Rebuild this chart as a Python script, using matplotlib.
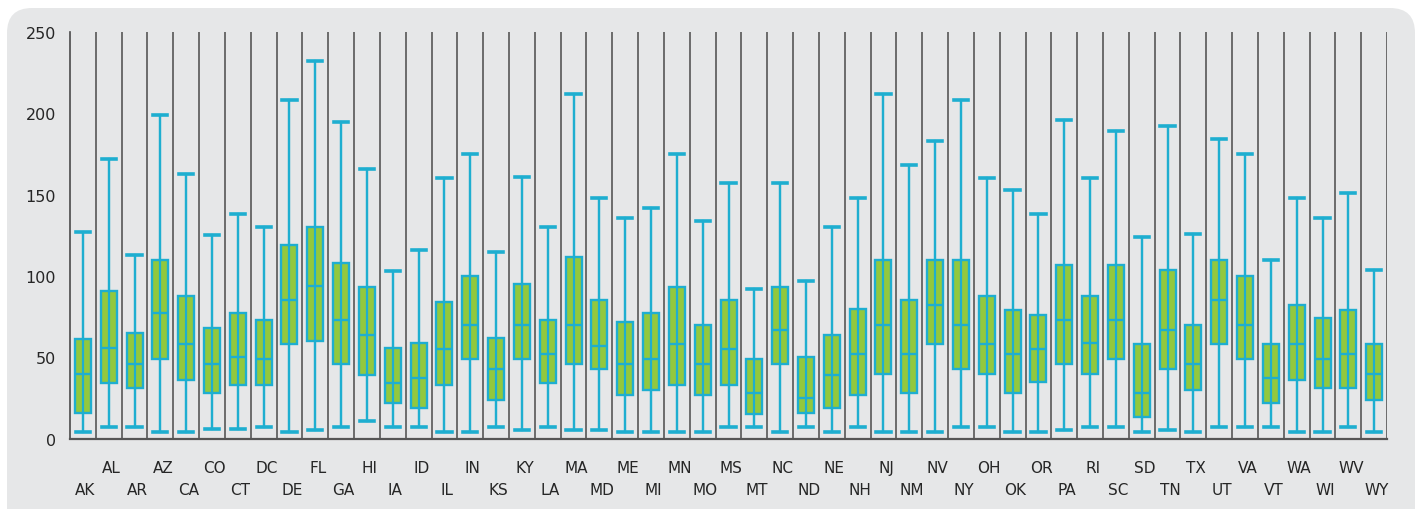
import matplotlib
matplotlib.use("Agg")
import matplotlib.pyplot as plt
from matplotlib.patches import FancyBboxPatch
import matplotlib.transforms as mtransforms

# Data
states = ["AK", "AL", "AR", "AZ", "CA", "CO", "CT", "DC", "DE", "FL", "GA", "HI", "IA",
          "ID", "IL", "IN", "KS", "KY", "LA", "MA", "MD", "ME", "MI", "MN", "MO", "MS",
          "MT", "NC", "ND", "NE", "NH", "NJ", "NM", "NV", "NY", "OH", "OK", "OR", "PA",
          "RI", "SC", "SD", "TN", "TX", "UT", "VA", "VT", "WA", "WI", "WV", "WY"]
whiskerHigh = [127, 172, 113, 199, 163, 125, 138, 130, 208, 232, 195, 166, 103,
               116, 160, 175, 115, 161, 130, 212, 148, 136, 142, 175, 134, 157,
               92, 157, 97, 130, 148, 212, 168, 183, 208, 160, 153, 138, 196,
               160, 189, 124, 192, 126, 184, 175, 110, 148, 136, 151, 104]
boxHigh = [61, 91, 65, 110, 88, 68, 77, 73, 119, 130, 108, 93, 56,
           59, 84, 100, 62, 95, 73, 112, 85, 72, 77, 93, 70, 85,
           49, 93, 50, 64, 80, 110, 85, 110, 110, 88, 79, 76, 107,
           88, 107, 58, 104, 70, 110, 100, 58, 82, 74, 79, 58]
median = [40, 56, 46, 77, 58, 46, 50, 49, 85, 94, 73, 64, 34,
          37, 55, 70, 43, 70, 52, 70, 57, 46, 49, 58, 46, 55,
          28, 67, 25, 39, 52, 70, 52, 82, 70, 58, 52, 55, 73,
          59, 73, 28, 67, 46, 85, 70, 37, 58, 49, 52, 40]
boxLow = [16, 34, 31, 49, 36, 28, 33, 33, 58, 60, 46, 39, 22,
          19, 33, 49, 24, 49, 34, 46, 43, 27, 30, 33, 27, 33,
          15, 46, 16, 19, 27, 40, 28, 58, 43, 40, 28, 35, 46,
          40, 49, 13, 43, 30, 58, 49, 22, 36, 31, 31, 24]
whiskerLow = [4, 7, 7, 4, 4, 6, 6, 7, 4, 5, 7, 11, 7,
              7, 4, 4, 7, 5, 7, 5, 5, 4, 4, 4, 4, 7,
              7, 4, 7, 4, 7, 4, 4, 4, 7, 7, 4, 4, 5,
              7, 7, 4, 5, 4, 7, 7, 7, 4, 4, 7, 4]
yTicks = [0, 50, 100, 150, 200, 250]

# Colors
panelColor = "#e6e7e8"
boxColor = "#92c83e"
lineColor = "#1eaed0"
gridColor = "#4a4a4a"
textColor = "#262626"

# Figure
fig = plt.figure(figsize=(14.19, 5.10), dpi=100, facecolor="white")
panel = FancyBboxPatch((0.07, -0.4), 14.08, 5.41,
                       boxstyle="round,pad=0,rounding_size=0.25",
                       transform=fig.dpi_scale_trans, facecolor=panelColor,
                       edgecolor="none", zorder=-10)
fig.add_artist(panel)

ax = fig.add_axes([0.0493, 0.138, 0.9282, 0.797])
ax.set_zorder(1)
ax.set_facecolor("none")

# Box stats
stats = []
for i in range(len(states)):
    stats.append({"label": states[i], "whislo": whiskerLow[i], "q1": boxLow[i],
                  "med": median[i], "q3": boxHigh[i], "whishi": whiskerHigh[i],
                  "fliers": []})
positions = list(range(len(states)))
ax.bxp(stats, positions=positions, widths=0.62, patch_artist=True, showfliers=False,
       boxprops=dict(facecolor=boxColor, edgecolor=lineColor, linewidth=1.7),
       medianprops=dict(color=lineColor, linewidth=1.7),
       whiskerprops=dict(color=lineColor, linewidth=1.6),
       capprops=dict(color=lineColor, linewidth=2.6),
       capwidths=0.55, zorder=3)
# whisker line runs through the box as well
ax.vlines(positions, whiskerLow, whiskerHigh, color=lineColor, linewidth=1.6, zorder=4)

# Category separator lines
for k in range(1, len(states) + 1):
    ax.plot([k - 0.5, k - 0.5], [0, 250], color=gridColor, linewidth=1.1, zorder=1)

# Axes limits and spines
ax.set_xlim(-0.5, len(states) - 0.5)
ax.set_ylim(0, 250)
for s in ["top", "right"]:
    ax.spines[s].set_visible(False)
ax.spines["left"].set_color(gridColor)
ax.spines["bottom"].set_color("#555555")
ax.spines["left"].set_linewidth(1.2)
ax.spines["bottom"].set_linewidth(1.6)

# Ticks
ax.set_yticks(yTicks)
ax.set_yticklabels([str(t) for t in yTicks], fontsize=11.5, color=textColor, fontweight="medium")
ax.tick_params(axis="y", length=0, pad=10)
ax.set_xticks([])

# Staggered state labels
trans = mtransforms.blended_transform_factory(ax.transData, fig.transFigure)
for i in range(len(states)):
    yy = 0.082 if i % 2 == 1 else 0.038
    ax.text(positions[i] + 0.1, yy, states[i], transform=trans, ha="center", va="center",
            fontsize=11, color=textColor, clip_on=False)

fig.savefig("out.png", dpi=100, facecolor="white")
